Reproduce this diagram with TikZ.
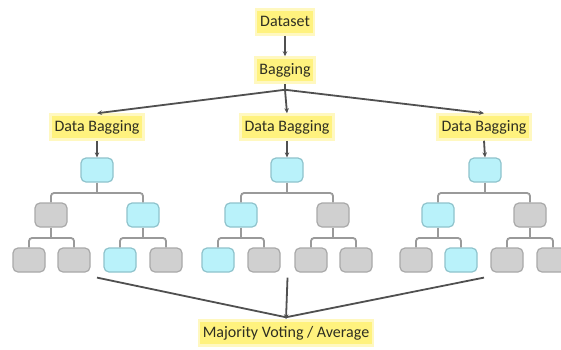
\documentclass[tikz,border=0pt]{standalone}
\usepackage{fontspec}
\setmainfont{Carlito}
\usetikzlibrary{arrows.meta,calc}
\definecolor{lblfill}{HTML}{FFF27E}
\definecolor{lblglow}{HTML}{FFF8C0}
\definecolor{cyfill}{HTML}{B9F2FA}
\definecolor{cyline}{HTML}{8FC3CC}
\definecolor{gyfill}{HTML}{D0D0D0}
\definecolor{gyline}{HTML}{A9A9A9}
\definecolor{treeline}{HTML}{9A9A9A}
\definecolor{mainline}{HTML}{505050}
\definecolor{txt}{HTML}{2E2E22}
\tikzset{
  lbl/.style={fill=lblfill, draw=lblglow, line width=2.5pt, text=txt,
    font=\fontsize{16}{18}\selectfont, inner xsep=4pt, inner ysep=5pt,
    text height=11.5pt, text depth=3.5pt},
  cyb/.style={fill=cyfill, draw=cyline, line width=1.2pt, rounded corners=5pt,
    minimum width=32pt, minimum height=24pt, inner sep=0pt},
  gyb/.style={fill=gyfill, draw=gyline, line width=1.2pt, rounded corners=5pt,
    minimum width=32pt, minimum height=24pt, inner sep=0pt},
  tree/.style={draw=treeline, line width=1.8pt, rounded corners=3pt},
  mainc/.style={draw=mainline, line width=1.8pt},
  arr/.style={mainc, -{Stealth[length=5pt,width=4.5pt]}}
}
\begin{document}
\begin{tikzpicture}[x=1pt,y=-1pt]
\clip (0,0) rectangle (561,349);
\fill[white] (0,0) rectangle (561,349);
% labels
\node[lbl] (ds) at (285,22) {Dataset};
\node[lbl] (bag) at (285,70) {Bagging};
\node[lbl] (db1) at (97,127) {Data Bagging};
\node[lbl] (db2) at (287,127) {Data Bagging};
\node[lbl] (db3) at (484,127) {Data Bagging};
\node[lbl] (mv) at (286,333) {Majority Voting / Average};
% bar levels
\coordinate (bar1) at (0,193);
\coordinate (bar2) at (0,238);
% left tree
\node[cyb] (L) at (97,170) {};
\node[gyb] (La) at (51,215) {};
\node[cyb] (Lb) at (143,215) {};
\node[gyb] (Laa) at (29,260) {};
\node[gyb] (Lab) at (74,260) {};
\node[cyb] (Lba) at (120,260) {};
\node[gyb] (Lbb) at (166,260) {};
% center tree
\node[cyb] (C) at (287,170) {};
\node[cyb] (Ca) at (241,215) {};
\node[gyb] (Cb) at (333,215) {};
\node[cyb] (Caa) at (218,260) {};
\node[gyb] (Cab) at (264,260) {};
\node[gyb] (Cba) at (311,260) {};
\node[gyb] (Cbb) at (356,260) {};
% right tree
\node[cyb] (R) at (485,170) {};
\node[cyb] (Ra) at (438,215) {};
\node[gyb] (Rb) at (530,215) {};
\node[gyb] (Raa) at (416,260) {};
\node[cyb] (Rab) at (461,260) {};
\node[gyb] (Rba) at (507,260) {};
\node[gyb] (Rbb) at (553,260) {};
% tree connectors
\foreach \t in {L,C,R}{
  \draw[tree] (\t a.north) -- (\t a.north |- bar1) -- (\t b.north |- bar1) -- (\t b.north);
  \draw[tree] (\t.south) -- (\t.south |- bar1);
  \draw[tree] (\t aa.north) -- (\t aa.north |- bar2) -- (\t ab.north |- bar2) -- (\t ab.north);
  \draw[tree] (\t a.south) -- (\t a.south |- bar2);
  \draw[tree] (\t ba.north) -- (\t ba.north |- bar2) -- (\t bb.north |- bar2) -- (\t bb.north);
  \draw[tree] (\t b.south) -- (\t b.south |- bar2);
}
% main connectors
\draw[arr] (ds.south) -- (bag.north);
\coordinate (fork) at ($(bag.south)+(0,6)$);
\draw[mainc] (bag.south) -- (fork);
\draw[arr] (fork) -- (db1.north);
\draw[arr] (fork) -- (db2.north);
\draw[arr] (fork) -- (db3.north);
\draw[arr] (db1.south) -- (L.north);
\draw[arr] (db2.south) -- (C.north);
\draw[arr] (db3.south) -- (R.north);
\coordinate (m1) at ($(Lab.south)!0.5!(Lba.south)+(0,5)$);
\coordinate (m2) at ($(Cab.south)!0.5!(Cba.south)+(0,5)$);
\coordinate (m3) at ($(Rab.south)!0.5!(Rba.south)+(0,5)$);
\coordinate (mvtop) at ($(mv.north)+(0,-2)$);
\draw[mainc] (m1) -- (mvtop);
\draw[mainc] (m3) -- (mvtop);
\draw[arr] (m2) -- (mv.north);
\end{tikzpicture}
\end{document}
